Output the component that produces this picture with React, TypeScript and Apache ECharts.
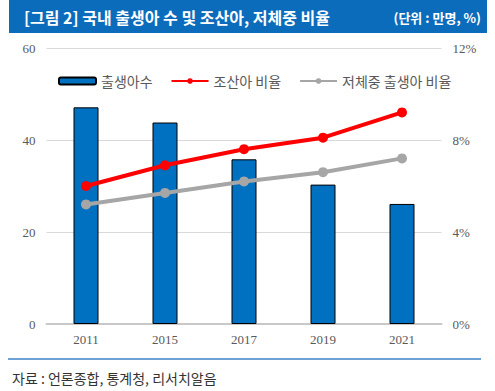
import React, { useEffect, useRef } from "react";
import * as echarts from "echarts";

const years = ["2011", "2015", "2017", "2019", "2021"];
const births = [47.1, 43.8, 35.8, 30.3, 26.1];
const pretermRatio = [6.0, 6.9, 7.6, 8.1, 9.2];
const lowWeightRatio = [5.2, 5.7, 6.2, 6.6, 7.2];

const titleText = "[그림 2] 국내 출생아 수 및 조산아, 저체중 비율";
const unitText = "(단위 : 만명, %)";
const sourceText = "자료 : 언론종합, 통계청, 리서치알음";

const KR = '"Noto Sans CJK KR", "Noto Sans", sans-serif';
const SERIF = '"Liberation Serif", "DejaVu Serif", serif';

export default function App() {
  const ref = useRef<HTMLDivElement>(null);
  useEffect(() => {
    document.body.style.margin = "0";
    const chart = echarts.init(ref.current!, null, { renderer: "svg" });
    chart.setOption({
      animation: false,
      backgroundColor: "#ffffff",
      grid: { left: 46.5, right: 53.5, top: 48, bottom: 67 },
      legend: {
        left: 53,
        top: 69,
        itemWidth: 37,
        itemHeight: 7,
        itemGap: 18,
        textStyle: { fontFamily: KR, fontSize: 14, color: "#595959" },
        data: ["출생아수", "조산아 비율", "저체중 출생아 비율"],
      },
      xAxis: {
        type: "category",
        data: years,
        axisTick: { show: false },
        axisLine: { show: true, lineStyle: { color: "#c8c8c8", width: 2 } },
        axisLabel: { fontFamily: SERIF, fontSize: 13, color: "#595959", margin: 9 },
      },
      yAxis: [
        {
          type: "value",
          min: 0,
          max: 60,
          interval: 20,
          axisLine: { show: false },
          axisTick: { show: false },
          splitLine: { lineStyle: { color: "#d9d9d9", width: 1 } },
          axisLabel: { fontFamily: SERIF, fontSize: 13, color: "#595959", margin: 11 },
        },
        {
          type: "value",
          min: 0,
          max: 12,
          interval: 4,
          position: "right",
          axisLine: { show: false },
          axisTick: { show: false },
          splitLine: { show: false },
          axisLabel: {
            fontFamily: SERIF,
            fontSize: 13,
            color: "#595959",
            margin: 11,
            formatter: "{value}%",
          },
        },
      ],
      series: [
        {
          name: "출생아수",
          type: "bar",
          data: births,
          barWidth: 25,
          itemStyle: { color: "#0070c0", borderColor: "#000000", borderWidth: 1 },
        },
        {
          name: "조산아 비율",
          type: "line",
          yAxisIndex: 1,
          data: pretermRatio,
          symbol: "circle",
          symbolSize: 10,
          lineStyle: { color: "#ff0000", width: 4 },
          itemStyle: { color: "#ff0000" },
        },
        {
          name: "저체중 출생아 비율",
          type: "line",
          yAxisIndex: 1,
          data: lowWeightRatio,
          symbol: "circle",
          symbolSize: 10,
          lineStyle: { color: "#a6a6a6", width: 4 },
          itemStyle: { color: "#a6a6a6" },
        },
      ],
      graphic: [
        {
          type: "rect",
          shape: { x: 9, y: 0, width: 478, height: 33 },
          style: { fill: "#0b6cbc" },
          silent: true,
        },
        {
          type: "text",
          x: 24,
          y: 17,
          style: {
            text: titleText,
            fill: "#ffffff",
            font: `bold 16px ${KR}`,
            textVerticalAlign: "middle",
          },
        },
        {
          type: "text",
          x: 481,
          y: 17,
          style: {
            text: unitText,
            fill: "#ffffff",
            font: `bold 13px ${KR}`,
            textAlign: "right",
            textVerticalAlign: "middle",
          },
        },
        {
          type: "line",
          shape: { x1: 8, y1: 359, x2: 481, y2: 359 },
          style: { stroke: "#3c82c4", lineWidth: 1.5 },
        },
        {
          type: "text",
          x: 12,
          y: 378,
          style: {
            text: sourceText,
            fill: "#333333",
            font: `14px ${KR}`,
            textVerticalAlign: "middle",
          },
        },
      ],
    });
    return () => chart.dispose();
  }, []);
  return (
    <div
      ref={ref}
      style={{ position: "absolute", left: 0, top: 0, width: 495, height: 391 }}
    />
  );
}
